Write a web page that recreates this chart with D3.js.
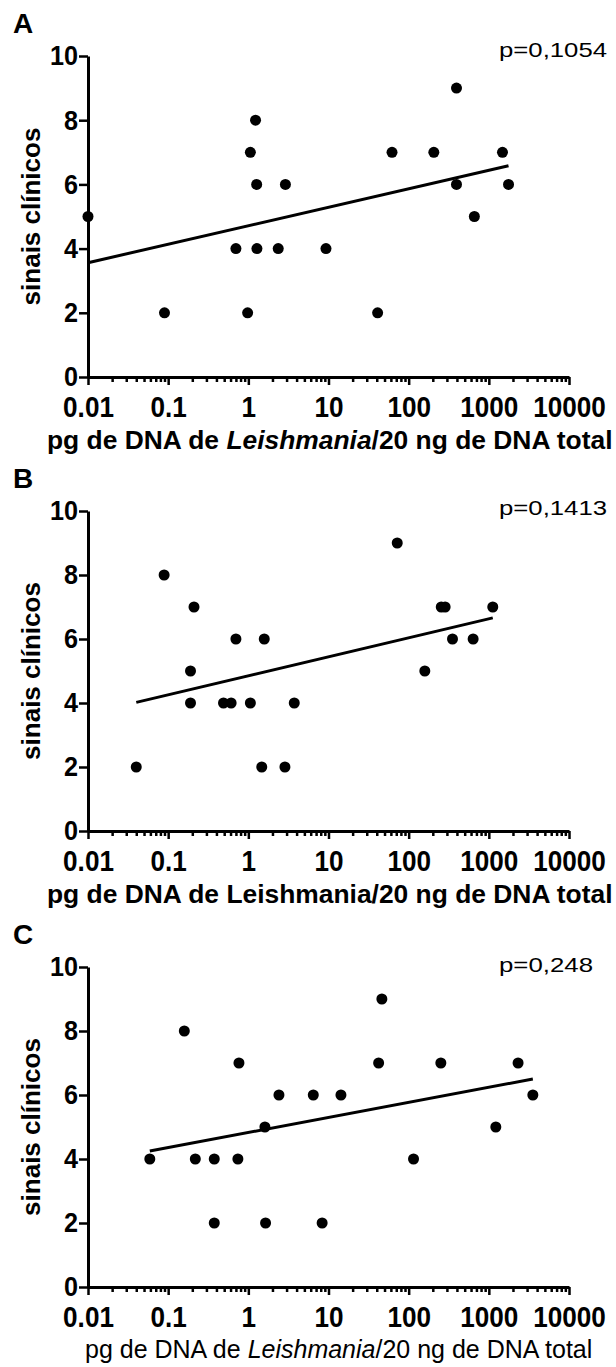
<!DOCTYPE html>
<html>
<head>
<meta charset="utf-8">
<script src="https://cdn.jsdelivr.net/npm/d3@7"></script>
<style>
  body { margin: 0; background: #fff; }
  svg { display: block; }
  text { font-family: "Liberation Sans", Arial, sans-serif; fill: #000; }
</style>
</head>
<body>
<svg id="drawspace" width="616" height="1367"></svg>
<script>
// values
const xTicks = [0.01, 0.1, 1, 10, 100, 1000, 10000];
const yTicks = [0, 2, 4, 6, 8, 10];
const panelLabels = ["A", "B", "C"];
const pValues = ["p=0,1054", "p=0,1413", "p=0,248"];

const xA = [0.01, 0.09, 0.70, 0.98, 1.06, 1.23, 1.27, 1.28, 2.36, 2.9, 9.3, 41, 62, 206, 395, 395, 660, 1480, 1760];
const yA = [5, 2, 4, 2, 7, 8, 6, 4, 4, 6, 4, 2, 7, 7, 9, 6, 5, 7, 6];
const xB = [0.04, 0.089, 0.21, 0.19, 0.19, 0.49, 0.61, 0.70, 1.06, 1.47, 1.58, 2.86, 3.74, 72, 159, 255, 285, 352, 637, 1120];
const yB = [2, 8, 7, 5, 4, 4, 4, 6, 4, 2, 6, 2, 4, 9, 5, 7, 7, 6, 6, 7];
const xC = [0.059, 0.159, 0.218, 0.376, 0.376, 0.764, 0.741, 1.61, 1.64, 2.41, 6.46, 8.33, 14.3, 42.2, 46.3, 115, 252, 1222, 2317, 3540];
const yC = [4, 8, 4, 4, 2, 7, 4, 5, 2, 6, 6, 2, 6, 7, 9, 4, 7, 5, 7, 6];

// regression line end points
const fitXA = [0.01, 1760], fitYA = [3.56, 6.58];
const fitXB = [0.04, 1120], fitYB = [4.02, 6.66];
const fitXC = [0.059, 3540], fitYC = [4.25, 6.50];

const xTitleItalic = [true, false, true];

let ds = d3.select("#drawspace");

let panels = [
  {xs: xA, ys: yA, fx: fitXA, fy: fitYA, top: 56, bottom: 377, pdy: 1},
  {xs: xB, ys: yB, fx: fitXB, fy: fitYB, top: 511, bottom: 831, pdy: 4},
  {xs: xC, ys: yC, fx: fitXC, fy: fitYC, top: 967, bottom: 1287, pdy: 5}
];

let left = 88, right = 569;
let xscale = d3.scaleLog().domain([0.01, 10000]).range([left, right]);

// squeeze text horizontally (the figure uses a narrow bold face)
function squeeze(sel, f) {
  sel.each(function() {
    let w = this.getComputedTextLength();
    d3.select(this).attr("textLength", w * f).attr("lengthAdjust", "spacingAndGlyphs");
  });
}

// minor ticks 2..9 of every decade
let minor = [];
xTicks.slice(0, -1).forEach(t => { for (let k = 2; k <= 9; k++) minor.push(t * k); });

panels.forEach((p, i) => {
  let yscale = d3.scaleLinear().domain([0, 10]).range([p.bottom, p.top]);
  let g = ds.append("g");

  // panel letter
  g.append("text").attr("x", 13).attr("y", p.top - 23)
    .style("font-size", "28px").style("font-weight", "bold").text(panelLabels[i]);

  // p value
  g.append("text").attr("x", 499).attr("y", p.top + p.pdy)
    .style("font-size", "21px")
    .attr("textLength", i == 2 ? 94 : 108).attr("lengthAdjust", "spacingAndGlyphs")
    .text(pValues[i]);

  // minor x ticks
  g.append("g").attr("transform", "translate(0," + p.bottom + ")")
    .call(d3.axisBottom(xscale).tickValues(minor).tickSize(5).tickFormat(""))
    .call(a => a.select(".domain").remove())
    .call(a => a.selectAll("line").attr("stroke-width", 2.5));

  // major x axis
  g.append("g").attr("transform", "translate(0," + p.bottom + ")")
    .call(d3.axisBottom(xscale).tickValues(xTicks).tickSize(8).tickSizeOuter(0).tickPadding(11)
      .tickFormat(d3.format("~g")))
    .call(a => a.select(".domain").attr("stroke-width", 3))
    .call(a => a.selectAll("line").attr("stroke-width", 2.5))
    .call(a => a.selectAll("text").style("font-size", "29px").style("font-weight", "bold").call(squeeze, 0.9));

  // y axis
  g.append("g").attr("transform", "translate(" + left + ",0)")
    .call(d3.axisLeft(yscale).tickValues(yTicks).tickSize(9).tickSizeOuter(0).tickPadding(1))
    .call(a => a.select(".domain").attr("stroke-width", 3))
    .call(a => a.selectAll("line").attr("stroke-width", 2.5))
    .call(a => a.selectAll("text").style("font-size", "28px").style("font-weight", "bold").call(squeeze, 0.9));

  // y title
  g.append("text")
    .attr("transform", "translate(40," + (p.top + p.bottom) / 2 + ") rotate(-90)")
    .attr("text-anchor", "middle")
    .style("font-size", "26px").style("font-weight", "bold")
    .text("sinais clínicos");

  // x title
  let t = g.append("text").attr("x", i == 2 ? 85 : 47).attr("y", p.bottom + (i == 2 ? 71 : 72))
    .style("font-size", i == 2 ? "25px" : "26.4px").style("font-weight", i == 2 ? "normal" : "bold");
  t.append("tspan").text("pg de DNA de ");
  t.append("tspan").style("font-style", xTitleItalic[i] ? "italic" : "normal").text("Leishmania");
  t.append("tspan").text("/20 ng de DNA total");

  // regression line
  let myLine = d3.line().x(d => xscale(d[0])).y(d => yscale(d[1]));
  g.append("path").datum(p.fx.map((v, k) => [v, p.fy[k]]))
    .attr("d", myLine).attr("fill", "none").attr("stroke", "#000").attr("stroke-width", 3);

  // points
  g.append("g").selectAll("circle").data(p.xs.map((v, k) => [v, p.ys[k]]))
    .enter().append("circle")
    .attr("cx", d => xscale(d[0]))
    .attr("cy", d => yscale(d[1]))
    .attr("r", 5.5)
    .attr("fill", "#000");
});
</script>
</body>
</html>
